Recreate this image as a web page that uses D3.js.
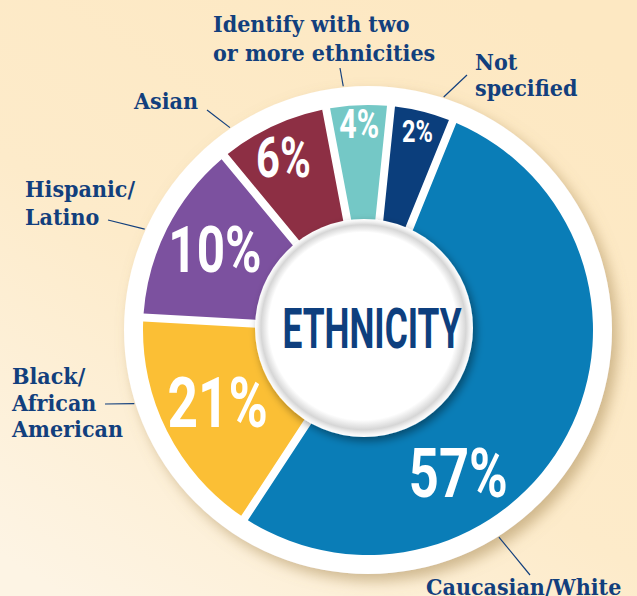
<!DOCTYPE html>
<html>
<head>
<meta charset="utf-8">
<script src="https://cdn.jsdelivr.net/npm/d3@7"></script>
<style>
    html, body { margin: 0; padding: 0; overflow: hidden; }
    #chart { width: 637px; height: 596px; }
</style>
</head>
<body>
<div id="chart"></div>
<script>
// --- data ---
const categories = ["Caucasian/White", "Black/African American", "Hispanic/Latino", "Asian",
    "Identify with two or more ethnicities", "Not specified"];
const percents = [57, 21, 10, 6, 4, 2];
// share of the circle each slice takes in the original artwork (small slices are drawn enlarged)
const sliceShares = [53.0, 16.6, 13.1, 8.0, 4.6, 4.5];
const labelLines = [["Caucasian/White"], ["Black/", "African", "American"], ["Hispanic/", "Latino"],
    ["Asian"], ["Identify with two", "or more ethnicities"], ["Not", "specified"]];
const centerTitle = "ETHNICITY";

// --- styles ---
const sliceColors = ["#0a7db7", "#fbbf35", "#7c519f", "#8d2f44", "#74c8c6", "#0b3e7c"];
const navy = "#123f7d";

class DonutChart {
    constructor(parentContainer) {
        this.parentContainer = parentContainer;
        this.initVis();
    }

    initVis() {
        let vis = this;

        vis.width = 637;
        vis.height = 596;
        vis.cx = 368;
        vis.cy = 330;
        vis.outerR = 225;
        vis.innerR = 100;
        vis.ringR = 244;

        vis.svg = d3.select(`#${vis.parentContainer}`)
            .append("svg")
            .attr("width", vis.width)
            .attr("height", vis.height);

        let defs = vis.svg.append("defs");

        let bg = defs.append("linearGradient")
            .attr("id", "bgGrad")
            .attr("x1", "0.8").attr("y1", "0")
            .attr("x2", "0.1").attr("y2", "1");
        bg.append("stop").attr("offset", "0%").attr("stop-color", "#fde8c2");
        bg.append("stop").attr("offset", "55%").attr("stop-color", "#fdebca");
        bg.append("stop").attr("offset", "100%").attr("stop-color", "#fdf4e4");

        let ringShadow = defs.append("filter").attr("id", "ringShadow")
            .attr("x", "-20%").attr("y", "-20%").attr("width", "140%").attr("height", "140%");
        ringShadow.append("feDropShadow")
            .attr("dx", 6).attr("dy", 7).attr("stdDeviation", 7)
            .attr("flood-color", "#a88a55").attr("flood-opacity", 0.55);

        let discShadow = defs.append("filter").attr("id", "discShadow")
            .attr("x", "-30%").attr("y", "-30%").attr("width", "160%").attr("height", "160%");
        discShadow.append("feDropShadow")
            .attr("dx", 3).attr("dy", 4).attr("stdDeviation", 4)
            .attr("flood-color", "#000").attr("flood-opacity", 0.4);

        let disc = defs.append("radialGradient")
            .attr("id", "discGrad")
            .attr("cx", "50%").attr("cy", "50%").attr("r", "50%")
            .attr("fx", "46%").attr("fy", "44%");
        disc.append("stop").attr("offset", "0%").attr("stop-color", "#ffffff");
        disc.append("stop").attr("offset", "86%").attr("stop-color", "#ffffff");
        disc.append("stop").attr("offset", "94%").attr("stop-color", "#d6d6d6");
        disc.append("stop").attr("offset", "97.5%").attr("stop-color", "#f2f2f2");
        disc.append("stop").attr("offset", "100%").attr("stop-color", "#ffffff");

        vis.svg.append("rect")
            .attr("width", vis.width)
            .attr("height", vis.height)
            .attr("fill", "url(#bgGrad)");

        // callout layout: angle (deg) where the leader meets the ring, leader end, text position
        vis.callouts = [
            {angle: 147.7, end: [530, 575], x: 426, y: 595, lh: 27},
            {angle: 252.5, end: [105, 404], x: 12, y: 384, lh: 26.5},
            {angle: 294.3, end: [108, 220], x: 25, y: 197, lh: 28},
            {angle: 325.7, end: [207, 110], x: 134, y: 109, lh: 27},
            {angle: 354.2, end: [340, 68], x: 213, y: 32, lh: 29},
            {angle: 18.0, end: [467, 75], x: 475, y: 70, lh: 26}
        ];

        // percent label placement: radius, angle offset from slice middle, font size
        vis.pctLayout = [
            {r: 169, shift: 30, size: 69},
            {r: 167, shift: 1, size: 70},
            {r: 173, shift: 1, size: 65},
            {r: 192, shift: -1, size: 55},
            {r: 206, shift: 0, size: 40},
            {r: 205, shift: 0, size: 31}
        ];

        vis.wrangleData();
    }

    wrangleData() {
        let vis = this;

        vis.displayData = categories.map((c, i) => ({
            category: c,
            percent: percents[i],
            share: sliceShares[i],
            lines: labelLines[i],
            color: sliceColors[i]
        }));

        let start = 22.1 * Math.PI / 180;
        vis.pie = d3.pie()
            .sort(null)
            .value(d => d.share)
            .startAngle(start)
            .endAngle(start + 2 * Math.PI);

        vis.arcs = vis.pie(vis.displayData);

        vis.updateVis();
    }

    updateVis() {
        let vis = this;

        let g = vis.svg.append("g")
            .attr("transform", `translate(${vis.cx}, ${vis.cy})`);

        // white ring behind the slices
        g.append("circle")
            .attr("r", vis.ringR)
            .attr("fill", "#ffffff")
            .attr("filter", "url(#ringShadow)");

        let arc = d3.arc()
            .innerRadius(vis.innerR)
            .outerRadius(vis.outerR)
            .padAngle(8 / vis.outerR)
            .padRadius(vis.outerR);

        g.selectAll(".slice")
            .data(vis.arcs)
            .enter()
            .append("path")
            .attr("class", "slice")
            .attr("d", arc)
            .attr("fill", d => d.data.color);

        // centre disc
        g.append("circle")
            .attr("cx", -4)
            .attr("cy", -2)
            .attr("r", 109)
            .attr("fill", "url(#discGrad)")
            .attr("filter", "url(#discShadow)");

        g.append("text")
            .attr("x", 4)
            .attr("y", -2)
            .attr("dy", "0.355em")
            .attr("text-anchor", "middle")
            .attr("textLength", 179)
            .attr("lengthAdjust", "spacingAndGlyphs")
            .style("font-family", "Roboto, 'DejaVu Sans', sans-serif")
            .style("font-weight", 700)
            .style("font-size", "55px")
            .style("fill", "#0e3f7e")
            .text(centerTitle);

        // percent labels
        vis.arcs.forEach((d, i) => {
            let lay = vis.pctLayout[i];
            let a = (d.startAngle + d.endAngle) / 2 + lay.shift * Math.PI / 180;
            let x = lay.r * Math.sin(a);
            let y = -lay.r * Math.cos(a);
            g.append("text")
                .attr("transform", `translate(${x}, ${y}) scale(0.76, 1)`)
                .attr("dy", "0.355em")
                .attr("text-anchor", "middle")
                .style("font-family", "Roboto, 'DejaVu Sans', sans-serif")
                .style("font-weight", 700)
                .style("font-size", lay.size + "px")
                .style("fill", "#ffffff")
                .text(d.data.percent + "%");
        });

        // callouts
        vis.arcs.forEach((d, i) => {
            let c = vis.callouts[i];
            let a = c.angle * Math.PI / 180;
            let r0 = vis.ringR + 1;
            vis.svg.append("line")
                .attr("x1", vis.cx + r0 * Math.sin(a))
                .attr("y1", vis.cy - r0 * Math.cos(a))
                .attr("x2", c.end[0])
                .attr("y2", c.end[1])
                .attr("stroke", navy)
                .attr("stroke-width", 1.2);

            let t = vis.svg.append("text")
                .attr("x", c.x)
                .attr("y", c.y)
                .style("font-family", "'DejaVu Serif Condensed', 'DejaVu Serif', serif")
                .style("font-stretch", "condensed")
                .style("font-weight", 700)
                .style("font-size", "23px")
                .style("fill", navy);

            d.data.lines.forEach((line, j) => {
                t.append("tspan")
                    .attr("x", c.x)
                    .attr("y", c.y + j * c.lh)
                    .text(line);
            });
        });
    }
}

new DonutChart("chart");
</script>
</body>
</html>
